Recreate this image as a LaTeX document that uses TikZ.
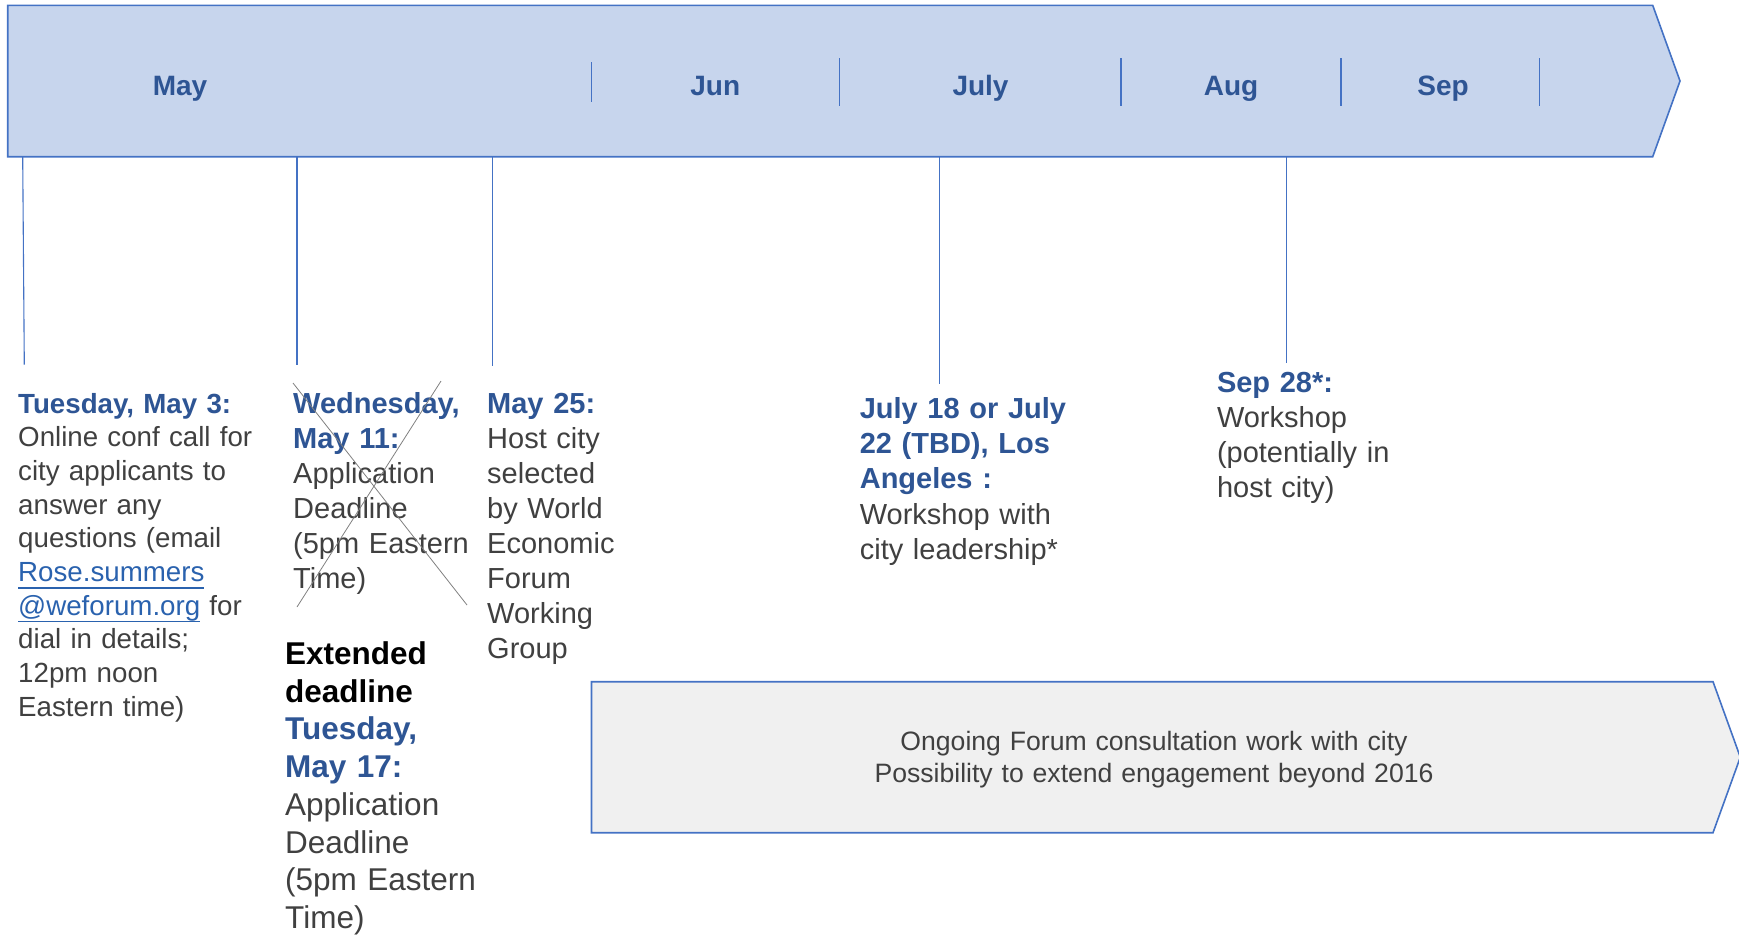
\documentclass[tikz,border=0pt]{standalone}
\usepackage{fontspec}
\setmainfont{Liberation Sans}
\usepackage{tikz}

\definecolor{barfill}{HTML}{C7D5ED}
\definecolor{barline}{HTML}{4472C4}
\definecolor{headblue}{HTML}{2E5594}
\definecolor{bodygrey}{HTML}{404040}
\definecolor{linkblue}{HTML}{2A62AE}
\definecolor{boxfill}{HTML}{F0F0F0}

\newsavebox\linkbox
\newcommand\weblink[1]{\leavevmode\sbox\linkbox{\color{linkblue}#1}{\color{linkblue}\rlap{\rule[-7pt]{\wd\linkbox}{1.6pt}}\usebox\linkbox}}
\newcommand\hd[1]{{\color{headblue}\bfseries #1}}

\begin{document}
\begin{tikzpicture}[x=1pt,y=-1pt,
    monthlabel/.style={anchor=base,inner sep=0pt,text=headblue,font=\fontsize{28}{34}\selectfont\bfseries},
    eventtext/.style={anchor=base west,inner sep=0pt,align=left,text width=260pt,text=bodygrey,font=\fontsize{29}{35}\selectfont},
    monthsep/.style={barline,line width=1.3pt},
    droplink/.style={barline,line width=1.1pt},
    strike/.style={gray,line width=0.8pt}]
    \useasboundingbox (0,0) rectangle (1739,937);
    % Timeline bar
    \draw[barline,line width=1.6pt,fill=barfill] (7.7,5.3) -- (1652.7,5.3) -- (1680,81) -- (1652.7,156.7) -- (7.7,156.7) -- cycle;
    % Month separators
    \draw[monthsep] (591.7,62) -- (591.7,101.5);
    \foreach \x in {839.7,1121,1341,1539.7} {
      \draw[monthsep] (\x,58) -- (\x,105.7);
    }
    % Month labels
    \foreach \m/\x in {May/180,Jun/715.3,July/980.5,Aug/1231,Sep/1443} {
      \node[monthlabel] (m\m) at (\x,95.5) {\m};
    }
    % Lines down to the events
    \foreach \i/\x/\xe/\y in {1/22.7/24.3/364.6,2/297/297/364.6,3/492.4/492.4/365.8,4/939.3/939.3/383.7,5/1286.5/1286.5/363.4} {
      \coordinate (top\i) at (\x,156.7);
      \coordinate (end\i) at (\xe,\y);
      \draw[droplink] (top\i) -- (end\i);
    }
    % Events
    \node[eventtext,font=\fontsize{27.7}{33.7}\selectfont] (may3) at (18,413)
      {\hd{Tuesday, May 3:}\\Online conf call for\\city applicants to\\answer any\\questions (email\\\weblink{Rose.summers}\\\weblink{@weforum.org} for\\dial in details;\\12pm noon\\Eastern time)};
    \node[eventtext] (may11) at (293,413)
      {\hd{Wednesday,}\\\hd{May 11:}\\Application\\Deadline\\(5pm Eastern\\Time)};
    \draw[strike] (293,383) -- (467,605);
    \draw[strike] (441,381) -- (297,607);
    \node[eventtext,font=\fontsize{31.5}{37.7}\selectfont] (may17) at (285,664.5)
      {\textbf{\color{black}Extended}\\\textbf{\color{black}deadline}\\\hd{Tuesday,}\\\hd{May 17:}\\Application\\Deadline\\(5pm Eastern\\Time)};
    \node[eventtext] (may25) at (487,413)
      {\hd{May 25:}\\Host city\\selected\\by World\\Economic\\Forum\\Working\\Group};
    \node[eventtext,font=\fontsize{29}{35.3}\selectfont] (july) at (859.6,418.3)
      {\hd{July 18 or July}\\\hd{22 (TBD), Los}\\\hd{Angeles :}\\Workshop with\\city leadership*};
    \node[eventtext] (sep28) at (1216.8,392.7)
      {\hd{Sep 28*:}\\Workshop\\(potentially in\\host city)};
    % Ongoing work
    \draw[barline,line width=1.6pt,fill=boxfill] (591.5,681.7) -- (1713,681.7) -- (1740.3,757.2) -- (1713,832.7) -- (591.5,832.7) -- cycle;
    \node[anchor=base,align=center,text width=800pt,inner sep=0pt,text=bodygrey,font=\fontsize{26.6}{32}\selectfont] (ongoing) at (1154,750.7)
      {Ongoing Forum consultation work with city\\Possibility to extend engagement beyond 2016};
\end{tikzpicture}
\end{document}
